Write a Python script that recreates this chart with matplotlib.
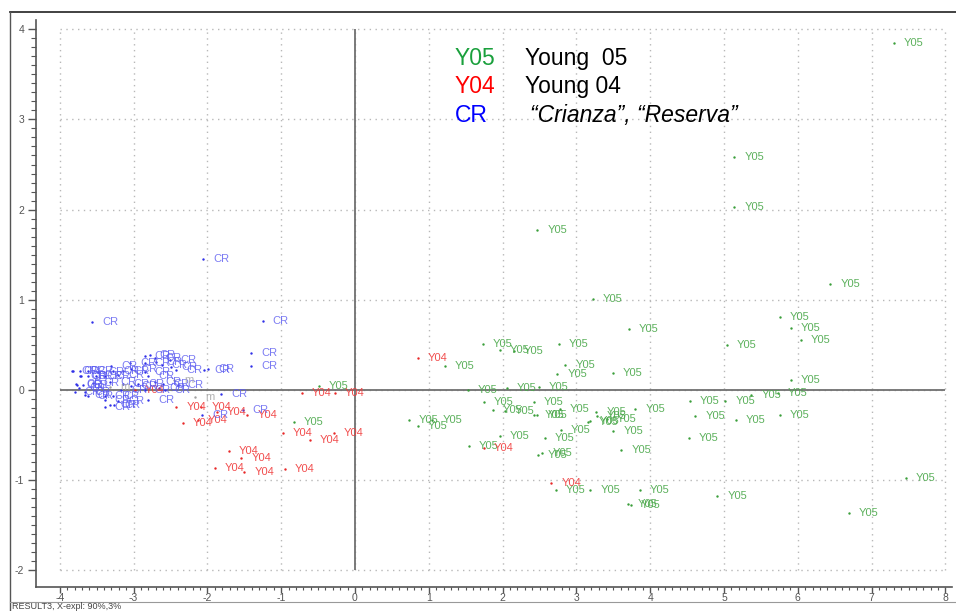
import numpy as np
import matplotlib
matplotlib.use("Agg")
import matplotlib.pyplot as plt
from matplotlib.ticker import FixedLocator
from matplotlib.lines import Line2D

plt.rcParams['font.family'] = ['Liberation Sans', 'DejaVu Sans']

# ---- scores (PC1, PC2) ----
y05_x = [7.30, 5.14, 5.14, 2.47, 6.44, 3.22, 5.76, 5.91, 6.04, 3.71, 5.04, 1.22,
         1.73, 1.96, 2.15, 2.76, 2.85, 2.74, 3.49, 1.53, 2.06, 2.49, 1.75, 2.42,
         1.87, 2.03, 2.43, 2.47, 2.78, 2.79, 3.27, 3.28, 3.41, 3.16, 3.18, 3.80,
         3.50, 2.57, 1.96, 1.54, 2.48, 2.54, 3.61, 0.73, 0.85, 1.05, 4.54, 4.61,
         4.52, 2.72, 3.19, 3.86, 3.70, 3.74, 5.91, 5.37, 5.73, 5.02, 5.16, 5.76,
         7.46, 4.91, 6.69, -0.49, -0.83]
y05_y = [3.85, 2.58, 2.03, 1.77, 1.17, 1.01, 0.81, 0.69, 0.55, 0.68, 0.50, 0.27,
         0.51, 0.44, 0.43, 0.51, 0.28, 0.18, 0.19, 0.00, 0.02, 0.03, -0.13, -0.13,
         -0.22, -0.23, -0.28, -0.28, -0.21, -0.44, -0.24, -0.29, -0.32, -0.36, -0.34, -0.21,
         -0.46, -0.53, -0.51, -0.62, -0.72, -0.70, -0.67, -0.33, -0.40, -0.33, -0.12, -0.29,
         -0.53, -1.11, -1.11, -1.11, -1.26, -1.27, 0.11, -0.05, -0.03, -0.12, -0.33, -0.28,
         -0.98, -1.17, -1.36, 0.04, -0.36]

y04_x = [0.85, 1.75, 2.66, -0.72, -0.27, -0.98, -0.61, -0.29, -1.71, -1.54, -1.90,
         -1.50, -0.95, -2.42, -2.33, -2.08, -1.87, -2.13, -1.46, -2.98]
y04_y = [0.35, -0.64, -1.03, -0.03, -0.03, -0.48, -0.55, -0.48, -0.68, -0.75, -0.86,
         -0.91, -0.88, -0.19, -0.37, -0.19, -0.24, -0.33, -0.28, 0.00]

cr_x = [-2.85, -2.78, -2.71, -2.50, -2.69, -3.05, -3.30, -2.85, -2.62, -2.49, -2.42,
        -3.82, -3.73, -3.62, -3.48, -3.28, -3.14, -3.03, -3.71, -3.62, -3.51, -3.39,
        -3.21, -2.85, -2.80, -3.32, -3.14, -2.94, -2.71, -2.60, -2.40, -3.78, -3.69,
        -3.55, -3.03, -3.80, -3.66, -3.17, -2.85, -2.65, -2.58, -3.66, -3.62, -3.39,
        -3.28, -2.80, -3.21, -3.39, -3.26, -3.39, -3.32, -3.84, -3.72, -3.77, -3.74,
        -2.06, -1.25, -1.41, -1.41, -3.56, -1.81, -1.52, -2.04, -1.99, -2.07]
cr_y = [0.38, 0.39, 0.36, 0.33, 0.31, 0.30, 0.27, 0.30, 0.28, 0.25, 0.22,
        0.21, 0.21, 0.21, 0.20, 0.21, 0.21, 0.23, 0.16, 0.16, 0.16, 0.16,
        0.17, 0.20, 0.15, 0.09, 0.07, 0.07, 0.09, 0.07, 0.06, 0.07, 0.06,
        0.08, 0.04, -0.02, -0.02, 0.00, 0.00, 0.02, 0.00, -0.06, -0.07, -0.07,
        -0.07, -0.11, -0.12, -0.11, -0.17, -0.19, -0.17, 0.21, 0.16, 0.06, 0.02,
        1.45, 0.77, 0.41, 0.27, 0.75, -0.04, -0.22, 0.22, 0.23, -0.28]

m_x = [-2.45, -2.17, -3.32]
m_y = [0.11, -0.08, 0.03]

groups = [
    (y05_x, y05_y, "Y05", "#3a9e3a", "#4aa84a"),
    (y04_x, y04_y, "Y04", "#e82828", "#f03a3a"),
    (cr_x, cr_y, "CR", "#3030e8", "#5a5af0"),
    (m_x, m_y, "m", "#a0a0a0", "#a8a8a8"),
]

legend_codes = ["Y05", "Y04", "CR"]
legend_names = ["Young  05", "Young 04", "\u201cCrianza\u201d, \u201cReserva\u201d"]
legend_colors = ["#1aa03c", "#ff0000", "#0000ff"]

W, H = 956, 611
fig = plt.figure(figsize=(W / 100, H / 100), dpi=100)

# plot area in pixels
left_px, right_px, top_px, bot_px = 36, 952, 20, 587
ax = fig.add_axes([left_px / W, 1 - bot_px / H, (right_px - left_px) / W, (bot_px - top_px) / H])
ax.set_xlim(-4.322, 8.089)
ax.set_ylim(-2.184, 4.102)

# bounded dotted grid
grid_kw = dict(color="#b8b8b8", linewidth=1.0, linestyle=(0, (1, 3.2)), zorder=0)
ax.vlines(np.arange(-4, 9), -2, 4, **grid_kw)
ax.hlines(np.arange(-2, 5), -4, 8, **grid_kw)

# origin axes
ax.vlines(0, -2, 4, color="#707070", linewidth=1.3, zorder=1)
ax.hlines(0, -4, 8, color="#707070", linewidth=1.3, zorder=1)

for xs, ys, lab, dot_c, txt_c in groups:
    ax.scatter(xs, ys, s=3, color=dot_c, linewidths=0, zorder=3)
    for x, y in zip(xs, ys):
        ax.annotate(lab, (x, y), xytext=(10, 0), textcoords="offset pixels",
                    ha="left", va="center", fontsize=8, color=txt_c,
                    alpha=0.9 if lab != "CR" else 0.8, zorder=4)

# legend block
for i, (code, name, col) in enumerate(zip(legend_codes, legend_names, legend_colors)):
    yy = 3.68 - i * 0.32
    ax.text(1.355, yy, code, color=col, fontsize=16.5, ha="left", va="center")
    if i == 2:
        ax.text(2.37, yy, name, color="black", fontsize=16.5, ha="left", va="center",
                style="italic")
    else:
        ax.text(2.30, yy, name, color="black", fontsize=16.5, ha="left", va="center")

# spines and ticks
for s in ("top", "right"):
    ax.spines[s].set_visible(False)
for s in ("left", "bottom"):
    ax.spines[s].set_color("#555555")
    ax.spines[s].set_linewidth(1.2)
ax.xaxis.set_major_locator(FixedLocator(np.arange(-4, 9)))
ax.xaxis.set_minor_locator(FixedLocator(np.round(np.arange(-4, 8.001, 0.1), 2)))
ax.yaxis.set_major_locator(FixedLocator(np.arange(-2, 5)))
ax.yaxis.set_minor_locator(FixedLocator(np.round(np.arange(-2, 4.001, 0.1), 2)))
ax.tick_params(axis="both", which="major", direction="out", color="#555555",
               labelcolor="#555555", labelsize=7.5, width=1.0)
ax.tick_params(axis="x", which="major", length=4, pad=0.5)
ax.tick_params(axis="y", which="major", length=6, pad=2.5)
ax.tick_params(axis="x", which="minor", direction="out", length=2.5, color="#555555", width=0.8)
ax.tick_params(axis="y", which="minor", direction="out", length=3.5, color="#555555", width=0.8)
ax.set_xticklabels([str(v) for v in range(-4, 9)])
ax.set_yticklabels([str(v) for v in range(-2, 5)])

# outer frame
fig.add_artist(Line2D([10 / W, 1], [1 - 12 / H, 1 - 12 / H], color="#333333", linewidth=1.3))
fig.add_artist(Line2D([10 / W, 10 / W], [1 - 12 / H, 0], color="#555555", linewidth=1.0))
fig.add_artist(Line2D([10 / W, 1], [1 - 602 / H, 1 - 602 / H], color="#999999", linewidth=0.8))
fig.text(12 / W, 1 - 606.5 / H, "RESULT3, X-expl: 90%,3%", fontsize=6.5, color="#444444",
         ha="left", va="center")

fig.savefig("out.png", dpi=100)
